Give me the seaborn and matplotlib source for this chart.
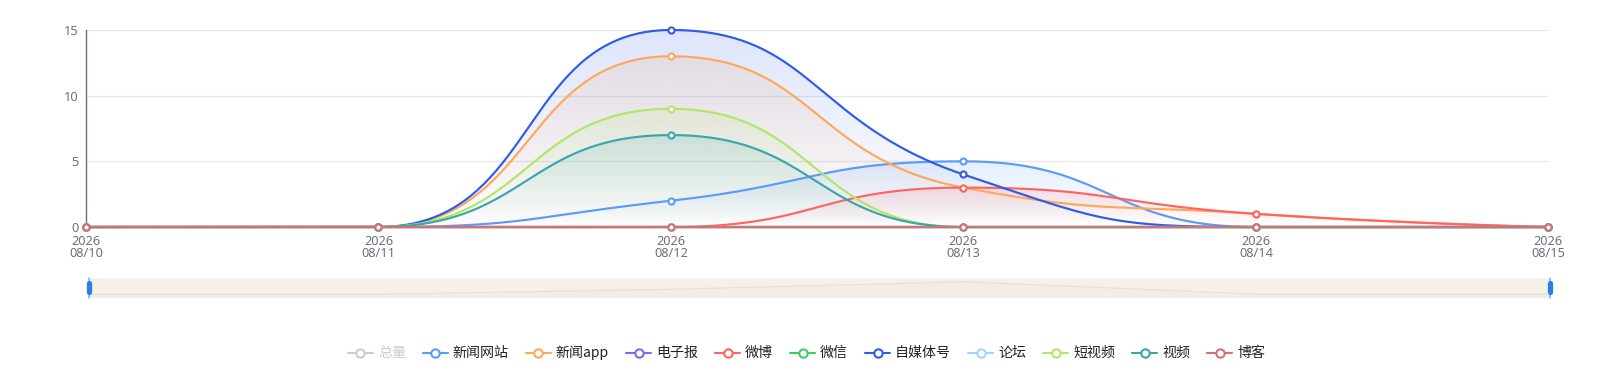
import numpy as np
import pandas as pd
import matplotlib
matplotlib.use("Agg")
import matplotlib.pyplot as plt
from matplotlib.patches import PathPatch
from matplotlib.path import Path
from matplotlib.lines import Line2D
import seaborn as sns

# ---------------- data ----------------
dates = ["2026\n08/10", "2026\n08/11", "2026\n08/12", "2026\n08/13", "2026\n08/14", "2026\n08/15"]
series_names = ["总量", "新闻网站", "新闻app", "电子报", "微博", "微信", "自媒体号", "论坛", "短视频", "视频", "博客"]
v_total = [0, 0, 0, 0, 0, 0]
v_news_site = [0, 0, 2, 5, 0, 0]
v_news_app = [0, 0, 13, 3, 1, 0]
v_epaper = [0, 0, 0, 0, 0, 0]
v_weibo = [0, 0, 0, 3, 1, 0]
v_wechat = [0, 0, 0, 0, 0, 0]
v_wemedia = [0, 0, 15, 4, 0, 0]
v_forum = [0, 0, 0, 0, 0, 0]
v_short_video = [0, 0, 9, 0, 0, 0]
v_video = [0, 0, 7, 0, 0, 0]
v_blog = [0, 0, 0, 0, 0, 0]
series_values = [v_total, v_news_site, v_news_app, v_epaper, v_weibo, v_wechat,
                 v_wemedia, v_forum, v_short_video, v_video, v_blog]
series_visible = [False] + [True] * 10
yticks = [0, 5, 10, 15]

colors = ["#cccccc", "#5b9bf8", "#ffa857", "#7d6bf6", "#ff6461", "#46c86a",
          "#2f5be8", "#a4d3ff", "#b2e56a", "#3aa6ac", "#d27272"]

# ---------------- layout ----------------
W, H = 1613, 382
sns.set_theme(style="white")
plt.rcParams["font.family"] = ["Noto Sans CJK SC", "DejaVu Sans"]
tick_font = ["Noto Sans", "DejaVu Sans"]

fig = plt.figure(figsize=(W / 100, H / 100), dpi=100)
L, R, T, B = 86, 1548.3, 30, 227
ax = fig.add_axes([L / W, 1 - B / H, (R - L) / W, (B - T) / H])
ax.set_xlim(0, len(dates) - 1)
ax.set_ylim(0, 15)
pxx = (R - L) / (len(dates) - 1)
pxy = (B - T) / 15.0


def echarts_smooth(xs, ys, smooth=0.5, n=80):
    P = [(x * pxx, y * pxy) for x, y in zip(xs, ys)]
    out_x, out_y = [P[0][0]], [P[0][1]]
    cpx0, cpy0 = P[0]
    prevX, prevY = P[0]
    N = len(P)
    for i in range(1, N):
        x, y = P[i]
        nextCpx0 = nextCpy0 = None
        if i == N - 1:
            cpx1, cpy1 = x, y
        else:
            nextX, nextY = P[i + 1]
            vx, vy = nextX - prevX, nextY - prevY
            dx0, dx1 = x - prevX, nextX - x
            dy0, dy1 = y - prevY, nextY - y
            lp = np.hypot(dx0, dy0)
            ln = np.hypot(dx1, dy1)
            r = ln / (ln + lp)
            nextCpx0 = x + vx * smooth * r
            nextCpy0 = y + vy * smooth * r
            nextCpx0 = min(nextCpx0, max(nextX, x)); nextCpy0 = min(nextCpy0, max(nextY, y))
            nextCpx0 = max(nextCpx0, min(nextX, x)); nextCpy0 = max(nextCpy0, min(nextY, y))
            vx, vy = nextCpx0 - x, nextCpy0 - y
            cpx1 = x - vx * lp / ln
            cpy1 = y - vy * lp / ln
            cpx1 = min(cpx1, max(prevX, x)); cpy1 = min(cpy1, max(prevY, y))
            cpx1 = max(cpx1, min(prevX, x)); cpy1 = max(cpy1, min(prevY, y))
            vx, vy = x - cpx1, y - cpy1
            nextCpx0 = x + vx * ln / lp
            nextCpy0 = y + vy * ln / lp
        t = np.linspace(0, 1, n)[1:]
        bx = (1 - t) ** 3 * prevX + 3 * (1 - t) ** 2 * t * cpx0 + 3 * (1 - t) * t ** 2 * cpx1 + t ** 3 * x
        by = (1 - t) ** 3 * prevY + 3 * (1 - t) ** 2 * t * cpy0 + 3 * (1 - t) * t ** 2 * cpy1 + t ** 3 * y
        out_x.extend(bx); out_y.extend(by)
        cpx0, cpy0 = nextCpx0, nextCpy0
        prevX, prevY = x, y
    return np.array(out_x) / pxx, np.array(out_y) / pxy


# grid
for yv in yticks[1:]:
    ax.axhline(yv, color="#e8e8ec", lw=1, zorder=0)
for s in ["top", "right"]:
    ax.spines[s].set_visible(False)
ax.spines["left"].set_color("#6e7079")
ax.spines["left"].set_linewidth(1)
ax.spines["bottom"].set_color("#6e7079")
ax.spines["bottom"].set_linewidth(1)
ax.set_facecolor("none")

xidx = np.arange(len(dates))
z = 2
for name, vals, col, vis in zip(series_names, series_values, colors, series_visible):
    if not vis:
        continue
    cx, cy = echarts_smooth(xidx, vals)
    vmax = max(vals)
    if vmax > 0:
        verts = np.vstack([np.column_stack([cx, cy]), [[cx[-1], 0], [cx[0], 0]]])
        patch = PathPatch(Path(verts, closed=True), facecolor="none", edgecolor="none")
        ax.add_patch(patch)
        rgb = matplotlib.colors.to_rgb(col)
        grad = np.zeros((256, 2, 4))
        grad[..., :3] = rgb
        grad[..., 3] = np.linspace(0, 0.16, 256)[:, None]
        im = ax.imshow(grad, extent=(0, len(dates) - 1, 0, vmax), origin="lower",
                       aspect="auto", zorder=1, interpolation="bilinear")
        im.set_clip_path(patch)
    df = pd.DataFrame({"x": cx, "y": cy})
    sns.lineplot(data=df, x="x", y="y", color=col, lw=1.55, sort=False, estimator=None,
                 ax=ax, zorder=z, clip_on=False)
    ax.plot(xidx, vals, linestyle="none", marker="o", ms=4.4, mfc="white", mec=col,
            mew=1.5, zorder=z + 0.5, clip_on=False)
    z += 1

ax.set_xlim(0, len(dates) - 1)
ax.set_ylim(0, 15)
ax.set_xticks(xidx)
ax.set_xticklabels(dates, linespacing=0.95, family=tick_font)
ax.set_yticks(yticks)
ax.set_yticklabels([str(v) for v in yticks], family=tick_font)
ax.tick_params(axis="both", length=0, labelsize=9.2, labelcolor="#6e7079")
ax.tick_params(axis="x", pad=5.5)
ax.tick_params(axis="y", pad=5.5)
ax.set_xlabel("")
ax.set_ylabel("")

# ---------------- data zoom slider ----------------
SL, SR, ST, SB = 89.3, 1550, 278, 298
sax = fig.add_axes([SL / W, 1 - SB / H, (SR - SL) / W, (SB - ST) / H])
sax.set_facecolor("#f5f0ec")
for s in sax.spines.values():
    s.set_visible(False)
sax.set_xticks([]); sax.set_yticks([])
shadow = v_news_site
ext = max(shadow) - min(shadow)
sax.set_xlim(0, len(dates) - 1)
sax.set_ylim(min(shadow) - ext * 0.3, max(shadow) + ext * 0.3)
sax.fill_between(xidx, shadow, min(shadow) - ext * 0.3, color="#ece6e0", alpha=0.25, lw=0)
sax.plot(xidx, shadow, color="#e6e1dc", lw=0.9)

for hx in (SL, SR):
    fig.add_artist(Line2D([hx / W, hx / W], [1 - ST / H, 1 - SB / H], color="#8db6ef", lw=1.2))
    fig.add_artist(Line2D([hx / W, hx / W], [1 - 283.2 / H, 1 - 292.2 / H], color="#2e7de1",
                          lw=3.8, solid_capstyle="round"))

# ---------------- legend ----------------
renderer = fig.canvas.get_renderer()
fs = 10.1
items = []
for name, col, vis in zip(series_names, colors, series_visible):
    t = fig.text(0, 0, name, fontsize=fs)
    w = t.get_window_extent(renderer).width
    t.remove()
    items.append((name, col, vis, w))
gap = 17
total = sum(30 + w for *_, w in items) + gap * (len(items) - 1)
x0 = W / 2 - total / 2
ly = 353
for name, col, vis, w in items:
    fig.add_artist(Line2D([x0 / W, (x0 + 25) / W], [1 - ly / H, 1 - ly / H], color=col, lw=1.5))
    fig.add_artist(Line2D([(x0 + 12.5) / W], [1 - ly / H], marker="o", ms=6, mfc="white",
                          mec=col, mew=1.5, color=col))
    fig.text((x0 + 30) / W, 1 - ly / H, name, fontsize=fs, va="center", ha="left",
             color="#222222" if vis else "#cccccc")
    x0 += 30 + w + gap

fig.savefig("out.png", dpi=100)
